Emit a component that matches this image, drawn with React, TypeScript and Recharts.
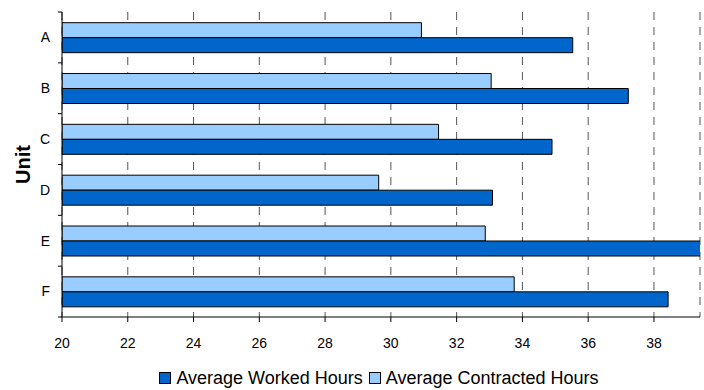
import React from 'react';
import { BarChart, Bar, XAxis, YAxis, CartesianGrid, Legend } from 'recharts';

// Units shown top to bottom
const units = ['A', 'B', 'C', 'D', 'E', 'F'];
const contractedHours = [30.93, 33.05, 31.45, 29.63, 32.87, 33.75];
const workedHours = [35.53, 37.22, 34.9, 33.09, 39.5, 38.43];
const hourTicks = [20, 22, 24, 26, 28, 30, 32, 34, 36, 38];

const LEGEND_ORDER = ['Average Worked Hours', 'Average Contracted Hours'];
const FONT = '"Liberation Sans", Arial, sans-serif';

const data = units.map((unit, i) => ({
  unit,
  contracted: contractedHours[i],
  worked: workedHours[i],
}));

// category ticks sit on band boundaries, labels in the middle
const UnitTick = (props: any) => {
  const { x, y, payload, index, visibleTicksCount } = props;
  const half = payload.offset ?? 0;
  const axisX = x + 12;
  return (
    <g>
      <line x1={axisX - 4} x2={axisX} y1={y - half} y2={y - half} stroke="#000" />
      {index === visibleTicksCount - 1 && (
        <line x1={axisX - 4} x2={axisX} y1={y + half} y2={y + half} stroke="#000" />
      )}
      <text x={x} y={y} dy="0.35em" textAnchor="end" fontSize={14} fontFamily={FONT} fill="#000">
        {payload.value}
      </text>
    </g>
  );
};

const renderLegend = (props: any) => {
  const items = [...(props.payload || [])].sort(
    (a: any, b: any) => LEGEND_ORDER.indexOf(a.value) - LEGEND_ORDER.indexOf(b.value)
  );
  return (
    <div style={{ display: 'flex', justifyContent: 'center', alignItems: 'center', height: 24, paddingTop: 4, paddingLeft: 64, fontFamily: FONT, fontSize: 18, color: '#000' }}>
      {items.map((item: any) => (
        <span key={item.value} style={{ display: 'flex', alignItems: 'center', marginRight: 6 }}>
          <span style={{ width: 10, height: 10, background: item.color, border: '1px solid #000', marginRight: 5, display: 'inline-block' }} />
          {item.value}
        </span>
      ))}
    </div>
  );
};

export default function App() {
  return (
    <div style={{ position: 'absolute', left: 0, top: 0, width: 704, height: 390, background: '#fff' }}>
      <BarChart
        width={704}
        height={390}
        data={data}
        layout="vertical"
        margin={{ top: 12, right: 4, bottom: 0, left: 0 }}
        barCategoryGap="21%"
        barGap={0}
      >
        <CartesianGrid horizontal={false} stroke="#555" strokeDasharray="8 7" />
        <XAxis
          type="number"
          domain={[20, 39.4]}
          ticks={hourTicks}
          allowDataOverflow
          height={45}
          tickSize={5}
          tickMargin={16}
          axisLine={{ stroke: '#000' }}
          tickLine={{ stroke: '#000' }}
          tick={{ fill: '#000', fontSize: 14, fontFamily: FONT }}
        />
        <YAxis
          type="category"
          dataKey="unit"
          width={62}
          tickSize={4}
          tickMargin={8}
          tickLine={false}
          axisLine={{ stroke: '#000' }}
          tick={<UnitTick />}
          label={{ value: 'Unit', angle: -90, position: 'insideLeft', offset: 23, style: { fontSize: 20, fontWeight: 'bold', fontFamily: FONT, fill: '#000', textAnchor: 'middle' } }}
        />
        <Legend verticalAlign="bottom" content={renderLegend} />
        <Bar dataKey="contracted" name="Average Contracted Hours" fill="#99CCFF" stroke="#000" strokeWidth={1} isAnimationActive={false} />
        <Bar dataKey="worked" name="Average Worked Hours" fill="#0066CC" stroke="#000" strokeWidth={1} isAnimationActive={false} />
      </BarChart>
    </div>
  );
}
